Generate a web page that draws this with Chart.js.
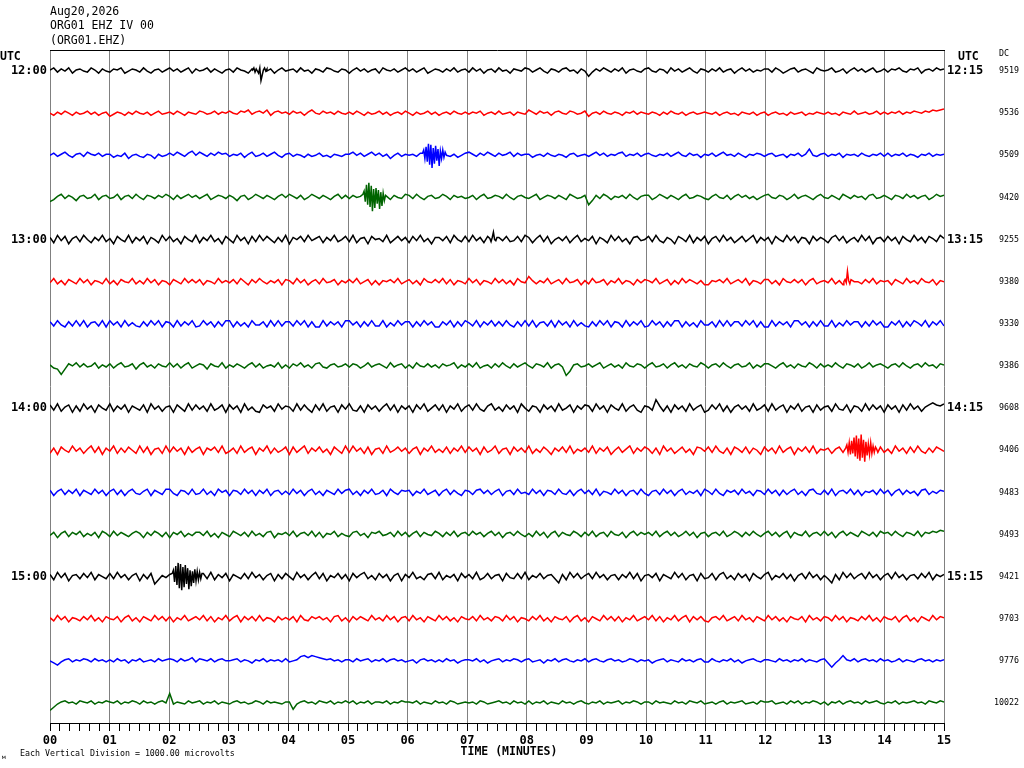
<!DOCTYPE html>
<html><head><meta charset="utf-8">
<script src="https://cdn.jsdelivr.net/npm/chart.js@4.4.0/dist/chart.umd.min.js"></script>
<style>html,body{margin:0;padding:0;background:#fff}#wrap{width:1024px;height:768px;position:relative}</style>
</head><body><div id="wrap"><canvas id="c"></canvas></div>
<script>
// ---------------- DATA ----------------
const headerLines = ['Aug20,2026', 'ORG01 EHZ IV 00', '(ORG01.EHZ)'];
const footnote = 'Each Vertical Division = 1000.00 microvolts';
const xTickLabels = ['00','01','02','03','04','05','06','07','08','09','10','11','12','13','14','15'];
const hourRows = [0, 4, 8, 12];
const leftHourLabels = ['12:00', '13:00', '14:00', '15:00'];
const rightHourLabels = ['12:15', '13:15', '14:15', '15:15'];
const dcValues = [9519, 9536, 9509, 9420, 9255, 9380, 9330, 9386, 9608, 9406, 9483, 9493, 9421, 9703, 9776, 10022];

// trace samples (units of 25 microvolts, positive = up), 16 per minute over 15 minutes
const trace00 = [1,3,-1,2,0,3,-2,1,2,0,-1,3,1,-2,2,0, -1,2,1,3,-2,0,2,1,-1,3,0,-2,1,2,-1,1, 3,0,2,-1,1,3,-2,2,0,1,3,-1,2,0,-2,1, 2,-1,3,1,0,-2,2,3,-1,1,0,2,-2,1,3,0, 1,2,-1,3,0,1,-2,2,1,-1,3,2,0,-1,2,1, -2,1,3,0,2,-1,1,2,-2,3,1,0,2,-1,1,3, 0,2,-1,1,3,-2,0,2,1,-1,2,0,3,-1,1,2, -1,3,0,2,-2,1,2,-1,3,0,1,-2,2,1,0,3, 2,-1,1,3,0,-2,2,1,-1,2,3,0,1,-2,2,0, -5,-1,2,0,3,1,-1,2,0,3,-2,1,2,0,-1,2, 3,0,-1,2,1,-2,3,0,2,-1,1,3,0,-2,2,1, -1,2,0,3,-1,1,2,-2,1,3,0,2,-1,1,0,2, 2,-1,3,1,-2,0,2,3,-1,1,2,0,-2,3,1,0, 1,3,-1,0,2,-2,1,3,0,2,-1,1,3,-1,0,2, -1,2,1,3,0,-1,2,1,3,-2,1,2,0,3,1,2];
const trace01 = [0,-2,1,-1,2,0,-2,1,-1,0,2,-1,1,-2,0,1, -3,-1,1,0,-2,1,-1,2,0,-1,1,-2,0,2,-1,0, 1,-1,2,0,-2,1,0,-1,2,1,-1,0,2,-1,1,0, 2,0,-1,2,1,3,-1,1,2,0,3,-2,1,2,0,1, -1,2,0,1,-2,1,3,0,-1,2,0,1,-1,2,0,-1, 1,-1,2,0,-2,1,-1,0,2,-1,1,-2,0,1,-1,2, 0,-2,1,-1,0,2,-1,1,-2,0,1,-1,2,0,-1,1, -1,1,0,2,-2,0,1,-1,2,-1,0,1,-2,1,0,-1, 3,1,-1,2,0,1,-2,1,2,0,-1,2,1,-1,0,2, -3,0,1,-1,2,0,-1,1,0,-2,1,0,2,-1,1,0, -1,1,0,-2,1,-1,2,0,-1,1,-2,0,1,-1,0,1, 0,-1,1,-2,0,1,-1,0,-2,1,0,-1,1,-2,0,1, -2,0,1,-1,0,-2,1,-1,0,1,-2,0,-1,1,0,-1, 1,-1,0,-2,1,0,-1,2,-1,0,1,-1,0,2,-1,1, -1,1,0,2,-1,1,0,2,1,0,2,1,3,2,3,4];
const trace02 = [0,2,-1,1,3,0,-2,1,2,-1,3,1,0,2,-1,1, 1,-2,0,-1,2,-3,0,1,-1,-2,1,0,-3,1,-1,0, 2,0,3,1,-1,2,4,0,3,1,-1,2,0,3,1,2, -1,1,0,2,-2,1,3,-1,0,2,-1,1,3,0,-2,1, 2,-1,1,0,-2,1,-1,0,2,-1,0,-2,1,0,-1,1, 1,3,0,2,-1,1,3,0,2,-1,1,-3,0,2,-1,1, 0,1,-1,2,0,0,0,0,0,0,0,-1,1,-2,0,2, 3,1,-1,2,0,3,1,-1,2,0,1,3,-1,2,0,1, 1,-2,0,1,-1,2,0,-1,1,0,-2,1,2,-1,0,1, -1,1,3,0,2,-1,1,0,2,3,-1,1,0,2,-1,1, 2,0,-1,1,0,2,-1,1,3,0,-1,2,0,1,-2,1, 0,2,-1,1,3,0,1,-1,2,0,-2,1,0,2,1,-1, 1,2,-1,0,1,-2,1,0,2,-1,1,6,0,-1,1,2, -1,1,0,2,-2,1,0,1,-1,2,0,-1,1,0,2,-1, 2,-1,1,0,2,-1,1,0,-2,1,0,2,-1,1,0,1];
const trace03 = [-4,-2,1,3,-1,2,0,-3,1,2,-1,0,3,-2,1,2, -1,0,3,-2,1,2,-1,3,0,-2,2,1,-1,2,0,3, 1,-2,2,-1,1,3,0,2,-1,1,3,-2,0,2,1,-1, 2,0,-3,1,2,-2,0,3,1,-1,2,0,-2,1,3,0, 3,1,-1,2,-2,0,3,1,-1,2,0,-2,1,3,-1,2, -1,2,0,1,0,0,0,0,0,0,1,-2,2,0,-1,3, 2,-1,3,0,-2,1,2,-1,0,3,1,-2,2,0,1,-1, 0,2,-2,1,3,-1,0,2,1,-1,3,0,-2,1,2,0, -1,1,3,-2,0,2,1,-1,2,0,-2,3,1,-1,0,2, -7,-3,2,-1,3,1,-2,1,0,2,-1,3,0,-2,1,2, 2,-2,0,3,1,-1,2,0,-2,1,3,-1,0,2,1,-1, -2,1,3,0,-1,2,-2,1,3,0,2,-1,1,-2,0,2, 3,0,-1,2,1,-2,0,3,-1,1,2,0,-2,1,3,0, -1,2,0,-2,3,1,-1,2,0,1,-2,2,3,-1,0,2, 0,-2,2,1,-1,3,0,2,-1,1,2,-2,0,3,1,2];
const trace04 = [2,-3,4,-1,3,-4,1,3,-2,4,0,-3,2,-1,4,-2, 1,-4,3,0,-2,4,-3,2,-1,3,-4,2,0,-3,4,-1, 3,-2,1,-4,3,0,-2,4,-3,2,-1,4,-2,1,-4,3, 0,-3,4,-1,2,-4,3,-2,4,-1,3,0,-3,2,-2,4, -4,2,0,3,-2,4,-1,1,3,-3,2,-1,4,-2,0,3, -2,4,-3,1,2,-4,3,0,1,-2,4,-3,0,3,-1,2, -3,3,-1,4,-2,1,-4,2,2,-1,3,-3,4,0,-2,3, -2,4,-1,2,-3,3,0,0,2,-1,3,-2,-1,3,-2,4, 2,-3,1,4,-2,3,-4,0,2,-1,3,-3,1,4,-2,1, -1,3,-4,2,0,-3,4,-1,3,-2,1,-4,2,3,-1,0, 3,-2,4,-1,-3,2,0,-4,3,1,-2,4,-3,2,-1,3, -4,1,3,-2,4,-1,2,-3,0,3,-2,1,4,-3,2,-1, 2,-4,3,0,-2,4,-1,3,-3,2,1,-4,3,-1,2,0, -3,2,4,-1,3,-3,0,2,-2,4,-1,3,-4,1,2,-2, 3,-1,2,-4,3,0,-2,4,-1,2,-3,3,1,-2,4,1];
const trace05 = [-1,3,-2,1,-3,2,0,-2,3,-1,2,-3,1,0,-2,3, -2,1,-3,2,0,-1,3,-2,1,-2,3,-1,2,-3,1,0, -3,2,0,-2,3,-1,2,-1,2,-3,1,0,-2,3,-1,1, -1,2,-2,3,0,-3,2,-1,3,0,-2,1,-1,2,-3,2, 1,-2,3,-1,2,-3,0,2,-2,3,-1,0,2,-3,1,-1, 2,-1,3,-2,0,2,-3,1,-3,1,0,2,-1,3,-2,0, 2,-2,1,-3,3,0,-1,2,-1,3,-2,2,-3,1,0,-2, 3,-1,2,-3,1,0,-2,3,-1,2,-2,1,-3,3,0,-1, 5,1,-2,1,-1,3,-2,0,2,-2,3,-1,0,2,-3,1, -2,3,-1,0,2,-3,1,-1,3,-2,1,0,-3,2,-1,2, 1,-1,3,-2,0,2,-3,1,-2,3,-1,2,0,-2,1,-3, -3,1,0,2,-1,3,-2,0,2,-1,3,-3,1,0,-2,2, 2,-2,1,-3,3,0,-1,2,-1,2,-3,1,3,-2,0,1, -1,3,-2,1,-3,2,0,0,0,-2,2,-1,3,-2,1,0, 1,-3,2,0,-2,3,-1,1,-2,3,0,-1,2,-3,1,0];
const trace06 = [2,-2,3,-1,-3,2,-2,3,-2,3,-3,1,2,-2,3,-3, 3,-1,2,-3,3,-2,1,-2,-3,2,-2,3,-1,3,-3,2, 1,-3,3,-2,2,-1,3,-3,-2,3,-1,2,-3,2,-2,3, 3,-3,2,-2,1,-3,3,-1,-1,2,-3,3,-2,3,-2,2, 2,-2,3,-1,3,-3,2,-3,-3,3,-2,2,-1,2,-3,3, 3,-1,2,-3,2,-2,3,-2,-2,3,-3,1,-2,3,-1,2, 2,-3,2,-2,3,-1,2,-3,-3,2,-1,3,-3,2,-2,3, 1,-2,3,-3,2,-1,3,-2,2,-2,3,-1,-3,2,-2,3, -2,3,-3,1,2,-2,3,-3,3,-1,2,-3,3,-2,1,-2, -3,2,-2,3,-1,3,-3,2,1,-3,3,-2,2,-1,3,-3, -2,3,-1,2,-3,2,-2,3,3,-3,2,-2,1,-3,3,-1, -1,2,-3,3,-2,3,-2,2,2,-2,3,-1,3,-3,2,-3, -3,3,-2,2,-1,2,-3,3,3,-1,2,-3,2,-2,3,-2, -2,3,-3,1,-2,3,-1,2,2,-3,2,-2,3,-1,2,-3, -3,2,-1,3,-3,2,-2,3,1,-2,3,-3,2,-1,3,-2];
const trace07 = [1,-2,-3,-8,-3,2,0,3,-1,2,-1,0,3,-2,1,-1, 2,-2,1,3,-1,0,2,-3,1,3,-1,1,-2,2,0,-1, 3,-1,2,-2,1,3,-2,0,2,1,-3,2,0,-1,3,-2, 1,-1,2,0,-2,1,3,-1,2,-2,0,1,-1,3,-2,1, -2,2,0,3,-1,1,-2,2,3,-1,-2,1,2,-1,0,2, -1,2,1,-2,0,3,-1,1,2,0,-2,3,-1,1,2,-2, 1,-2,3,0,-1,2,-1,1,-2,2,0,1,3,-2,1,-1, 2,-1,3,-2,0,1,-2,2,-1,3,0,-2,2,-1,1,3, 0,-2,2,1,-1,3,-2,1,2,-1,-9,-5,1,2,-1,0, 2,-1,1,3,-2,0,2,-1,1,-2,3,0,-1,2,1,-2, 1,3,-1,0,2,-2,1,3,-1,1,-2,2,0,-1,3,1, -2,1,2,-1,3,0,-2,1,2,-1,0,3,-2,1,-1,2, 2,0,-2,1,3,-1,1,-2,2,0,-1,3,1,-2,2,-1, 1,-1,3,0,-2,2,1,-1,2,-2,0,3,-1,1,2,0, -2,1,2,-1,3,0,-2,1,2,-1,3,0,1,-2,2,1];
const trace08 = [3,-2,4,-3,1,3,-4,2,-3,4,-1,2,-4,3,0,-2, 4,-3,2,-1,3,-4,2,0,-2,3,-4,4,-1,2,-3,1, 2,-4,3,0,-3,4,-2,3,-1,2,-3,4,-2,0,3,-4, 3,-1,2,-4,4,-2,1,-3,-4,3,0,2,-3,4,-1,2, 1,-3,4,-2,3,-1,-4,3,-2,4,-3,1,2,-4,3,-1, 4,-2,-3,2,-4,3,-1,2,-3,1,4,-2,3,-4,2,-1, 2,-4,3,-1,4,-3,0,3,-2,3,-4,2,-1,4,-3,1, 3,-2,4,-1,-3,2,4,-2,1,-3,3,-1,2,-4,4,0, -3,2,1,-4,3,-1,2,-3,4,-2,0,3,-4,2,-1,3, 2,-3,4,-1,2,-4,3,0,-2,4,-3,1,3,-2,-4,2, 1,-2,8,2,-3,2,-4,3,-1,2,-3,4,-2,1,3,-4, -2,3,-1,4,-3,2,-4,1,3,-1,2,-3,4,-2,0,3, -3,4,-2,1,3,-4,2,-1,4,-3,1,2,-4,3,-2,1, 2,-3,4,-1,-2,3,-4,2,1,-3,4,-2,3,-1,2,-4, 3,-1,2,-4,3,-2,4,-1,2,-3,1,3,5,3,2,4];
const trace09 = [-3,2,-4,3,0,-2,4,-1,2,-3,1,4,-2,3,-4,2, -1,4,-3,2,-2,3,0,-3,4,-2,3,-4,1,2,-3,4, -2,3,-1,2,-4,3,-2,1,3,-4,2,0,3,-2,4,-3, -1,2,-3,4,-2,1,3,-4,2,-1,4,-3,2,-2,0,3, -4,3,-2,1,4,-3,2,-1,3,-2,1,-4,3,0,-3,4, -2,4,-1,2,-3,3,-4,1,2,-3,4,-2,0,3,-1,2, -3,1,3,-4,2,-1,4,-2,1,-2,3,-3,2,-1,4,-2, 3,-1,2,-4,3,-2,0,4,-3,1,2,-4,3,-1,2,-2, 4,-3,1,-2,3,0,-4,2,-1,3,-2,4,-3,1,-1,2, -2,4,-3,2,-1,3,-4,0,3,-2,1,4,-3,2,-1,3, 1,-3,2,-4,4,-1,2,-3,0,3,-2,1,-4,3,2,-1, 3,-2,4,-1,-3,2,-4,3,1,-2,3,-3,2,0,-4,3, -1,2,-3,4,-2,1,3,-4,2,-1,3,-2,4,-3,1,0, 2,-3,1,3,-2,0,0,0,0,0,0,0,0,0,3,-2, 1,-3,4,-1,2,-3,3,-2,4,-1,-3,2,-2,3,1,-1];
const trace10 = [2,-3,1,3,-2,2,-1,3,-3,2,0,-2,3,-1,2,-3, 1,3,-2,2,-3,1,3,-1,-2,1,3,-3,2,0,-2,3, 3,-1,-3,2,1,-2,3,-2,-1,3,-2,1,-3,3,0,2, -3,2,1,-2,3,-1,2,-3,2,-1,3,-3,1,2,-2,1, -2,3,-1,2,-3,1,3,-2,1,-3,2,0,-2,3,-1,2, 3,-2,1,-3,2,-1,3,-2,-1,2,-3,3,0,-2,2,1, 2,-3,1,-1,3,-2,0,2,-3,1,3,-2,2,-1,-3,2, 1,-2,2,3,-1,2,-2,1,3,-3,1,2,-2,3,-1,0, -2,3,-1,2,-3,2,1,-2,3,-1,-2,2,-3,1,3,-1, 2,-2,3,-3,1,0,-2,3,-1,2,-3,1,2,-2,3,-1, -3,1,2,-2,3,-1,2,-3,1,3,-2,1,-1,2,-3,3, 1,-2,3,-1,-3,2,0,2,-2,3,-1,1,-3,2,1,-2, 3,-1,2,-3,2,-2,1,3,-2,1,-3,2,3,-1,-2,2, -2,3,-3,1,2,-1,3,-2,2,-3,1,0,2,-2,3,-1, 2,-3,1,3,-2,2,-1,1,-3,2,3,-2,1,-1,2,1];
const trace11 = [-1,2,-3,1,3,-2,2,0,3,-2,1,-1,2,-3,3,1, -2,3,-1,2,0,-2,1,3,1,-3,2,-1,3,1,-2,2, -3,2,0,3,-2,1,-1,2,2,-1,3,-2,1,-3,2,0, -2,3,1,-1,2,-2,3,-1,1,-2,2,3,-3,1,0,2, -1,3,-2,1,2,-1,3,-2,2,-3,1,0,3,-2,1,-1, -2,2,3,-1,1,-3,2,1,3,-1,0,2,-2,3,-1,2, -2,1,3,-2,2,0,-1,3,1,-2,2,-1,3,-2,1,2, -1,3,0,2,-2,1,3,-1,2,-3,1,2,-1,3,0,-2, 1,-2,3,-1,2,-3,1,3,-2,2,0,-1,3,1,-2,2, -1,3,-2,1,2,-2,3,0,-1,2,-3,1,3,-1,2,0, 2,-1,3,-2,1,3,-1,2,-2,0,3,-1,2,-3,1,2, -2,1,2,-1,3,-2,0,3,1,-2,2,-1,3,0,-2,1, 3,-1,2,-2,1,3,-3,2,0,-1,3,-2,1,2,-1,3, -1,2,-3,1,3,-1,2,0,-2,3,1,-1,2,-2,3,1, 2,-1,3,0,-2,2,1,-1,3,-2,2,1,3,2,4,3];
const trace12 = [2,-3,4,-1,3,-4,1,2,-2,3,-1,4,-3,2,0,-2, 3,-2,4,-1,2,-3,1,3,-4,2,-2,3,-7,-3,1,-1, 2,0,0,0,0,0,0,0,0,3,-2,4,-3,2,-1,3, -4,2,0,-2,3,-2,4,-1,2,-3,1,3,-4,2,-2,3, 0,-3,4,-1,2,-3,1,4,-2,3,-4,1,-1,3,-2,2, -4,3,-1,2,4,-2,1,-3,3,-1,2,-4,1,3,-4,2, -1,4,-2,0,-3,2,3,-2,4,-3,1,-1,2,-4,3,-1, 2,-2,4,-3,-1,3,-2,1,2,-4,3,-1,-2,3,-2,4, -3,1,-1,3,-2,1,2,-2,-6,2,-3,4,-1,3,-2,1, 3,-2,4,-1,2,-3,1,2,-3,2,-1,4,-2,3,-4,1, 2,-1,3,-4,2,0,-2,4,-1,3,-3,1,2,-4,3,-2, -1,3,-3,2,4,-2,1,-3,3,-1,2,-4,3,0,-2,2, 4,-3,1,-1,3,-2,2,-4,1,3,-2,4,-1,2,-3,1, -2,-6,2,-3,4,-1,3,-2,1,3,-2,4,-1,2,-3,1, 3,-2,4,-1,2,-3,1,2,-2,3,-1,4,-3,2,0,2];
const trace13 = [1,-2,3,-1,2,-3,1,0,-2,2,-1,3,-2,1,-3,2, 0,-1,2,-3,1,3,-2,1,-3,2,0,-2,3,-1,2,-2, 2,-3,1,-1,3,-2,0,2,-1,3,-2,2,-3,1,-1,3, -2,1,3,-3,2,-1,2,-2,3,-2,1,0,-3,2,-1,1, -1,2,-3,3,-1,-2,2,0,2,-1,1,-3,2,3,-2,1, -3,2,-1,2,0,-2,3,-1,1,-2,3,-1,2,-3,1,2, -2,3,-1,1,-3,2,0,-2,3,-1,2,-2,1,-3,2,0, -1,2,-2,3,-1,1,-2,2,1,-2,3,-1,2,-3,1,0, -2,2,-1,3,-2,1,-3,2,0,-1,2,-3,1,3,-2,1, -3,2,0,-2,3,-1,2,-2,2,-3,1,-1,3,-2,0,2, -1,3,-2,2,-3,1,-1,3,-2,1,3,-3,2,-1,2,-2, -3,1,2,-1,3,-2,0,2,-2,3,-1,1,-3,2,0,-2, 3,-1,2,-2,1,-3,2,0,-1,2,-3,3,-1,1,-2,2, 1,-2,3,-1,2,-3,1,0,-2,2,-1,3,-2,1,-3,2, 0,-1,2,-3,1,3,-2,1,-3,2,0,-2,3,-1,2,1];
const trace14 = [0,-2,-4,-1,1,2,-1,1,0,2,1,-1,2,0,1,-1, 1,-1,2,0,1,-2,1,0,2,-1,0,1,-1,2,0,1, 2,1,-1,2,0,1,3,-1,2,1,0,2,-1,1,2,0, 0,1,2,-1,1,0,-2,1,0,2,-1,1,0,1,-1,2, -1,0,1,4,5,3,5,4,3,2,1,2,0,1,-1,1, 1,-1,2,0,1,2,-1,1,0,2,-1,1,2,0,1,-1, 0,1,-2,1,2,0,1,-1,1,-1,2,0,1,-2,0,1, 1,0,2,-1,1,-2,0,1,2,-1,1,0,2,1,-1,1, 2,-1,0,1,-2,1,0,2,-1,1,2,0,-1,1,0,2, -1,1,2,0,-1,1,2,0,1,-1,0,2,1,-1,1,0, 1,-2,0,1,2,-1,1,0,-1,2,0,1,-1,1,2,-1, -1,2,0,-1,1,0,2,-1,1,-2,0,1,2,0,-1,1, 1,0,-1,2,0,1,-1,1,0,2,-1,1,0,-1,1,2, -2,-6,-2,1,5,1,0,2,-1,1,2,0,1,-1,2,0, 1,-1,0,2,-1,1,0,-1,1,2,0,1,-1,1,0,1];
const trace15 = [-7,-4,-1,1,2,0,1,-1,2,1,0,2,-1,1,0,2, 1,0,2,-1,1,0,2,1,-1,2,0,1,-1,1,2,0, 9,-1,1,0,-1,2,0,1,2,-1,1,0,2,-1,1,0, -1,1,2,0,1,-1,0,2,1,-1,2,0,1,0,-1,1, 1,-6,-1,1,2,0,1,-1,2,1,0,2,-1,1,0,2, 0,2,-1,1,0,2,-1,1,1,0,2,-1,1,0,2,1, 1,0,2,-1,1,0,-1,2,0,1,-1,2,1,-1,0,1, 0,1,-1,2,1,-1,0,1,2,0,1,-1,2,0,1,-1, 2,-1,1,0,2,-1,1,0,-1,2,0,1,-1,1,2,0, -1,1,0,2,-1,1,0,1,2,-1,1,0,2,1,-1,1, 1,-1,2,0,1,0,-1,2,0,1,-1,2,1,0,2,-1, 0,1,-1,1,2,-1,1,0,1,2,-1,0,1,-1,2,1, 1,2,-1,0,1,-1,2,0,2,-1,1,0,2,1,-1,1, -2,1,0,2,-1,1,2,0,1,-1,2,0,1,2,0,-1, 1,0,2,-1,1,0,1,2,0,1,-1,2,1,0,2,1];
const traces = [trace00,trace01,trace02,trace03,trace04,trace05,trace06,trace07,trace08,trace09,trace10,trace11,trace12,trace13,trace14,trace15];

// short bursts (events) sampled more densely: trace row, start minute, values
const burstTrace = [0, 2, 3, 4, 5, 9, 12];
const burstStart = [3.40, 6.25, 5.25, 7.38, 13.32, 13.35, 2.05];
const burstValues = [
  [1,3,-1,2,0,-2,3,-9,-4,1,3,0,2],
  [2,5,-3,8,-6,11,-9,10,-12,7,-8,9,-5,6,-10,4,-3,5,-2,3],
  [3,6,-4,12,-7,14,-9,11,-13,8,-10,9,-6,7,-11,5,-8,4,-3,2,1],
  [1,-2,2,7,0,-1,2],
  [0,2,-1,10,1,-2,2],
  [2,5,-2,7,-4,9,-3,12,-6,14,-8,11,-10,15,-7,10,-11,8,-5,6,-4,7,-3,4,-2,3,1,-2],
  [3,6,-5,10,-8,13,-11,12,-13,9,-10,11,-7,8,-12,6,-9,5,-6,7,-4,5,-3,4,-2,3]
];

// ---------------- BUILD ----------------
const TOTAL_MIN = 15, BURST_STEP = 0.02, UV_PER_UNIT = 25, UV_PER_ROW = 1000;
const traceColors = ['#000000', '#ff0000', '#0000ff', '#006400'];

function buildTrace(i) {
  const vals = traces[i];
  const step = TOTAL_MIN / (vals.length - 1);
  const pts = [], windows = [];
  burstTrace.forEach((tr, k) => {
    if (tr !== i) return;
    const s = burstStart[k], bv = burstValues[k];
    windows.push([s, s + (bv.length - 1) * BURST_STEP]);
    bv.forEach((v, j) => pts.push({x: s + j * BURST_STEP, y: i * UV_PER_ROW - v * UV_PER_UNIT}));
  });
  vals.forEach((v, j) => {
    const t = j * step;
    if (windows.some(w => t >= w[0] - 1e-6 && t <= w[1] + 1e-6)) return;
    pts.push({x: t, y: i * UV_PER_ROW - v * UV_PER_UNIT});
  });
  pts.sort((a, b) => a.x - b.x);
  return pts;
}

const datasets = traces.map((_, i) => ({
  data: buildTrace(i),
  borderColor: traceColors[i % 4],
  borderWidth: 1.5,
  pointRadius: 0,
  tension: 0,
  fill: false
}));

const MONO = '"DejaVu Sans Mono", "Liberation Mono", monospace';

const textPlugin = {
  id: 'heliTexts',
  afterDraw(chart) {
    const c = chart.ctx, a = chart.chartArea;
    c.save();
    c.fillStyle = '#000';
    c.textBaseline = 'middle';
    c.textAlign = 'left';
    c.font = '11.5px ' + MONO;
    headerLines.forEach((t, k) => c.fillText(t, a.left, 12 + k * 14.5));
    c.font = 'bold 11.5px ' + MONO;
    c.fillText('UTC', 0, 57);
    c.fillText('UTC', a.right + 14, 57);
    c.textAlign = 'center';
    c.fillText('TIME (MINUTES)', (a.left + a.right) / 2 + 12, 752);
    c.textAlign = 'left';
    c.font = '8.3px ' + MONO;
    c.fillText('DC', a.right + 55, 54);
    c.fillText(footnote, 20, 754);
    c.font = '6px ' + MONO;
    c.fillText('\u043c', 2, 757);
    c.restore();
  }
};

new Chart(document.getElementById('c'), {
  type: 'line',
  data: {datasets},
  options: {
    responsive: true,
    maintainAspectRatio: false,
    animation: false,
    events: [],
    layout: {padding: {top: 50, left: 0, right: 5, bottom: 0}},
    plugins: {legend: {display: false}, tooltip: {enabled: false}},
    scales: {
      x: {
        type: 'linear', position: 'bottom', min: 0, max: TOTAL_MIN,
        afterBuildTicks: s => { s.ticks = Array.from({length: TOTAL_MIN * 6 + 1}, (_, k) => ({value: k / 6})); },
        ticks: {
          autoSkip: false, maxRotation: 0, minRotation: 0, padding: 3, color: '#000',
          font: {family: MONO, weight: 'bold', size: 12},
          callback: (v, idx) => (idx % 6 === 0 ? xTickLabels[idx / 6] : '')
        },
        grid: {
          color: c => (c.index % 6 === 0 ? '#808080' : 'rgba(0,0,0,0)'),
          tickColor: '#000', tickLength: 8, lineWidth: 1, tickWidth: 1
        },
        border: {display: true, color: '#000', width: 1},
        afterFit: s => { s.height = 45; }
      },
      xTop: {
        type: 'linear', position: 'top', min: 0, max: TOTAL_MIN,
        ticks: {display: false},
        grid: {display: false, drawTicks: false},
        border: {display: true, color: '#000', width: 1},
        afterFit: s => { s.height = 0; }
      },
      y: {
        type: 'linear', position: 'left', reverse: true, min: -500, max: 15475,
        afterBuildTicks: s => { s.ticks = hourRows.map(r => ({value: r * UV_PER_ROW})); },
        ticks: {autoSkip: false, padding: 3, crossAlign: 'near', color: '#000',
          font: {family: MONO, weight: 'bold', size: 12},
          callback: (v, idx) => leftHourLabels[idx]},
        grid: {display: false, drawTicks: false},
        border: {display: false},
        afterFit: s => { s.width = 50; }
      },
      yTime: {
        type: 'linear', position: 'right', weight: 0, reverse: true, min: -500, max: 15475,
        afterBuildTicks: s => { s.ticks = hourRows.map(r => ({value: r * UV_PER_ROW})); },
        ticks: {autoSkip: false, padding: 3, crossAlign: 'near', color: '#000',
          font: {family: MONO, weight: 'bold', size: 12},
          callback: (v, idx) => rightHourLabels[idx]},
        grid: {display: false, drawTicks: false},
        border: {display: false},
        afterFit: s => { s.width = 45; }
      },
      yDC: {
        type: 'linear', position: 'right', weight: 1, reverse: true, min: -500, max: 15475,
        afterBuildTicks: s => { s.ticks = dcValues.map((_, i) => ({value: i * UV_PER_ROW})); },
        ticks: {autoSkip: false, padding: 0, crossAlign: 'far', color: '#000',
          font: {family: MONO, size: 8.3},
          callback: (v, idx) => String(dcValues[idx])},
        grid: {display: false, drawTicks: false},
        border: {display: false},
        afterFit: s => { s.width = 30; }
      }
    }
  },
  plugins: [textPlugin]
});
</script>
</body></html>
